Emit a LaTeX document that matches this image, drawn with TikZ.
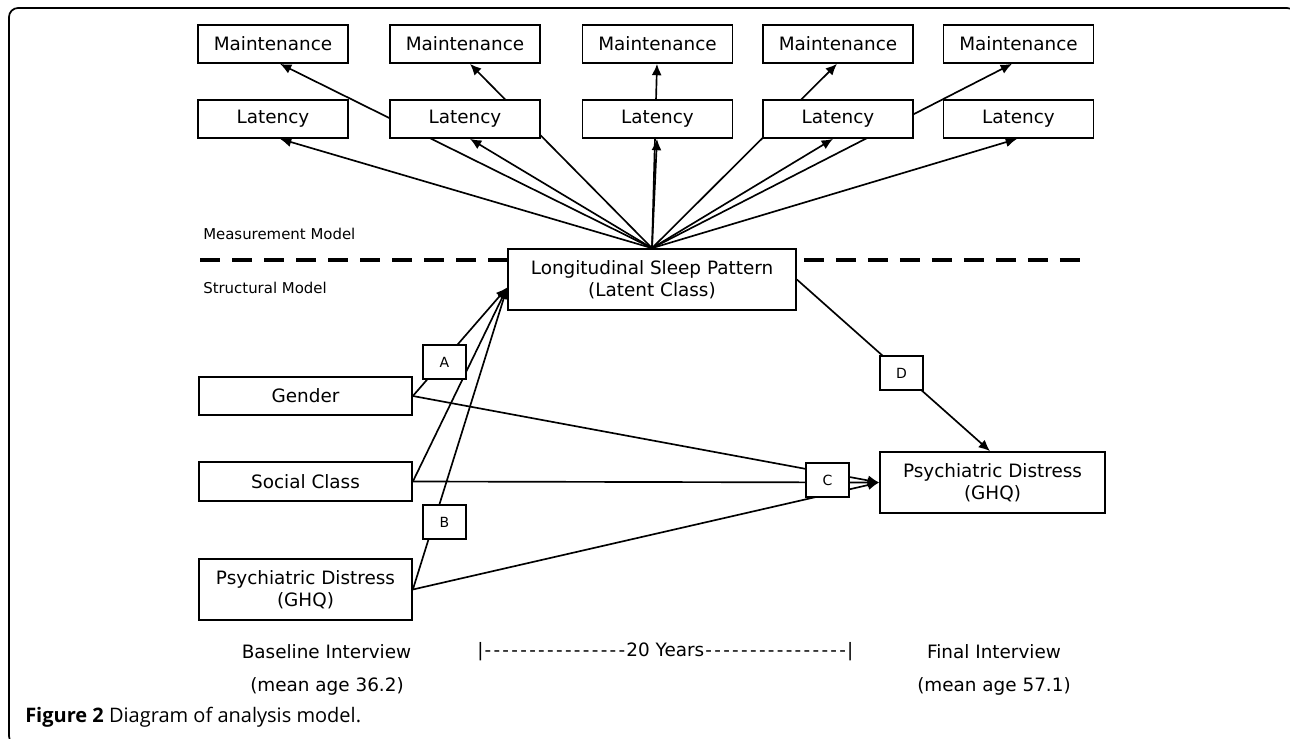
\documentclass[tikz,border=0pt]{standalone}
\usepackage{fontspec}
\setmainfont{DejaVu Sans}
\newfontfamily\capfont{Open Sans}
\usetikzlibrary{arrows.meta,calc,backgrounds}
\newcommand{\hy}{\makebox[6.7pt]{-}}
\begin{document}
\begin{tikzpicture}[x=0.75pt,y=-0.75pt,
  box/.style={draw=black,line width=1.3pt,fill=white,minimum width=112.5pt,minimum height=28.5pt,inner sep=0pt,align=center,font=\fontsize{13.8}{16.5}\selectfont},
  lbl/.style={draw=black,line width=1pt,fill=white,minimum width=32.25pt,minimum height=25.5pt,inner sep=0pt,font=\fontsize{10.5}{12}\selectfont},
  conn/.style={line width=1.25pt},
  arr/.style={conn,-{Latex[length=8.5pt,width=7.5pt]}},
  txt/.style={font=\fontsize{13.8}{16.5}\selectfont,inner sep=0pt},
  small/.style={font=\fontsize{11.2}{13}\selectfont,anchor=west,inner sep=0pt},
  dash line/.style={line width=3pt,dash pattern=on 15pt off 9pt}
]
\useasboundingbox (0,0) rectangle (1290,739);
% frame
\begin{scope}
\clip (0,0) rectangle (1290,739);
\draw[line width=1.3pt,rounded corners=6.75pt] (9,8) rectangle (1296,745);
\end{scope}

% measurement nodes
\node[box] (m1) at (273,44) {Maintenance};
\node[box] (m2) at (465,44) {Maintenance};
\node[box] (m3) at (657.5,44) {Maintenance};
\node[box] (m4) at (838,44) {Maintenance};
\node[box] (m5) at (1018.5,44) {Maintenance};
\node[box] (l1) at (273,119) {Latency};
\node[box] (l2) at (465,119) {Latency};
\node[box] (l3) at (657.5,119) {Latency};
\node[box] (l4) at (838,119) {Latency};
\node[box] (l5) at (1018.5,119) {Latency};

% latent
\node[box,minimum width=216pt,minimum height=45.75pt] (lsp) at (652,279.5) {Longitudinal Sleep Pattern\\(Latent Class)};

% structural nodes
\node[box,minimum width=159.75pt,minimum height=28.5pt] (gen) at (305.5,396) {Gender};
\node[box,minimum width=159.75pt,minimum height=29.25pt] (soc) at (305.5,481.5) {Social Class};
\node[box,minimum width=159.75pt,minimum height=45.75pt] (pdl) at (305.5,589.5) {Psychiatric Distress\\(GHQ)};
\node[box,minimum width=168.75pt,minimum height=45.75pt] (pdr) at (992.5,482.5) {Psychiatric Distress\\(GHQ)};

% path labels
\node[lbl] (A) at (444.5,362) {A};
\node[lbl] (B) at (444.5,522) {B};
\node[lbl] (C) at (827.5,480) {C};
\node[lbl] (D) at (901.5,373) {D};

% texts
\node[small] (mm) at (203,234) {Measurement Model};
\node[small] (sm) at (203,288) {Structural Model};
\node[txt] (bi) at (326.5,652) {Baseline Interview};
\node[txt] (ba) at (327,686) {(mean age 36.2)};
\node[txt,anchor=west] (yr) at (477,652) {|\hy\hy\hy\hy\hy\hy\hy\hy\hy\hy\hy\hy\hy\hy\hy\hy 20 Years\hy\hy\hy\hy\hy\hy\hy\hy\hy\hy\hy\hy\hy\hy\hy\hy|};
\node[txt] (fi) at (994,652) {Final Interview};
\node[txt] (fa) at (994,686) {(mean age 57.1)};
\node[anchor=west,inner sep=0pt,font=\capfont\fontsize{15}{18}\selectfont] (cap) at (25,717) {\textbf{Figure 2} Diagram of analysis model.};

% dashed divider
\coordinate (dl) at (200,260);
\coordinate (dr) at (1082,260);
\draw[dash line] (dl) -- (dl -| lsp.west);
\draw[dash line] ($(dl -| lsp.east)+(7,0)$) -- (dr);

\begin{scope}[on background layer]
% measurement arrows
\draw[arr] (lsp.north) -- ($(l1.south)+(7,0)$);
\draw[arr] (lsp.north) -- ($(m1.south)+(7,0)$);
\draw[arr] (lsp.north) -- ($(l2.south)+(5,0)$);
\draw[arr] (lsp.north) -- ($(m2.south)+(5,0)$);
\draw[arr] (lsp.north) -- ($(l3.south)+(-0.5,0)$);
\draw[arr] (lsp.north) -- ($(m3.south)+(-0.5,0)$);
\draw[arr] (lsp.north) -- ($(l4.south)+(-5,0)$);
\draw[arr] (lsp.north) -- ($(m4.south)+(-1,0)$);
\draw[arr] (lsp.north) -- ($(l5.south)+(-1.5,0)$);
\draw[arr] (lsp.north) -- ($(m5.south)+(-6.5,0)$);
% predictors to latent class (A, B)
\draw[arr] (gen.east) -- ($(lsp.west)+(0,8)$);
\draw[arr] (soc.east) -- ($(lsp.west)+(0,8)$);
\draw[arr] (pdl.east) -- ($(lsp.west)+(0,8)$);
% predictors to final distress (C)
\draw[arr] (gen.east) -- (pdr.west);
\draw[arr] (soc.east) -- (pdr.west);
\draw[arr] (pdl.east) -- (pdr.west);
% latent class to final distress (D)
\draw[arr] (lsp.east) -- ($(pdr.north)+(-2.5,0)$);
\end{scope}
\end{tikzpicture}
\end{document}
